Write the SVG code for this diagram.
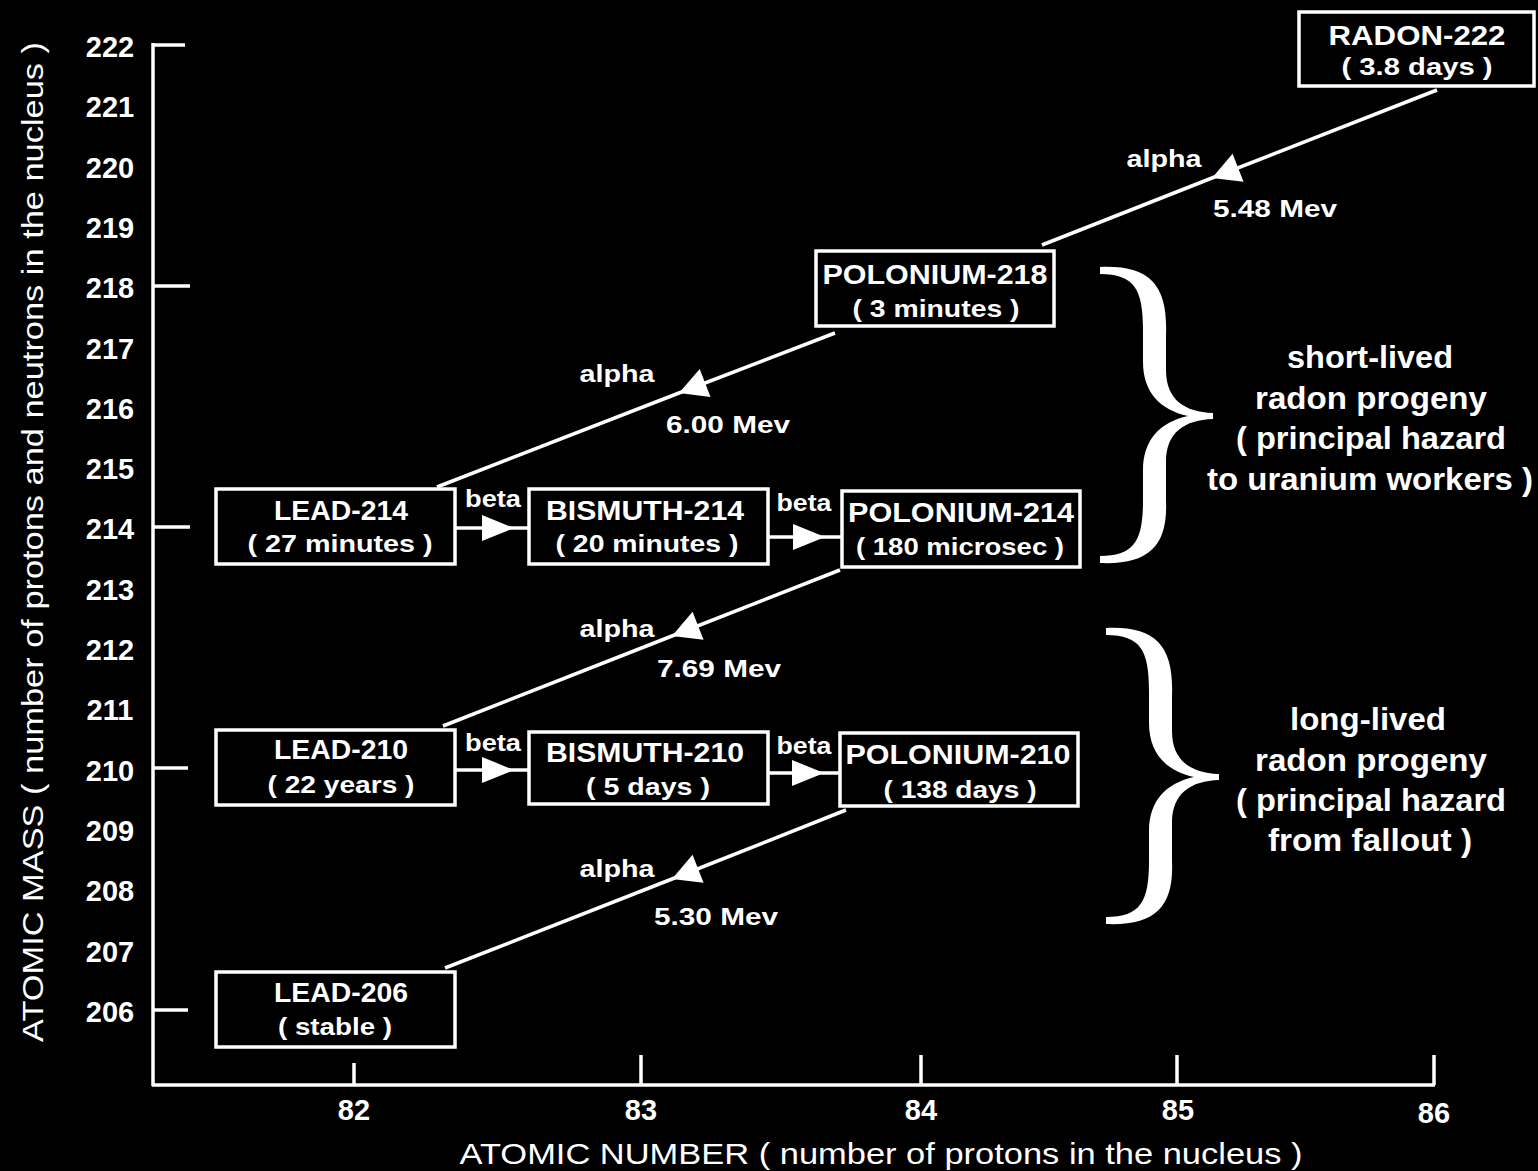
<svg xmlns="http://www.w3.org/2000/svg" width="1538" height="1171" viewBox="0 0 1538 1171">
<style>
text{fill:#fff;font-family:"Liberation Sans","DejaVu Sans",sans-serif;font-weight:bold;text-anchor:middle;dominant-baseline:central}
.name{font-size:27px}
.life{font-size:24px}
.num{font-size:29px;font-weight:normal}
.lbl{font-size:24px}
.side{font-size:32px;font-weight:normal}
.title{font-size:29px;font-weight:normal}
.box{fill:#000;stroke:#fff;stroke-width:3.5}
.ln{fill:none;stroke:#fff;stroke-width:3.5}
.alpha{fill:none;stroke:#fff;stroke-width:3.5;marker-mid:url(#ah)}
.beta{fill:none;stroke:#fff;stroke-width:3.5;marker-mid:url(#bh)}
</style>
<defs>
<marker id="ah" viewBox="-30 -16 32 32" refX="0" refY="0" markerWidth="32" markerHeight="32" markerUnits="userSpaceOnUse" orient="auto"><path d="M0,0 L-28,-15 L-28,15 Z" fill="#fff"/></marker>
<marker id="bh" viewBox="-35 -15 37 30" refX="0" refY="0" markerWidth="37" markerHeight="30" markerUnits="userSpaceOnUse" orient="auto"><path d="M0,0 L-32,-13 L-32,13 Z" fill="#fff"/></marker>
<path id="brace" d="M1100 267 C1150 265 1168 285 1166 335 L1166 370 C1166 400 1185 412 1213 413 L1213 419 C1185 420 1166 432 1166 462 L1166 500 C1168 545 1150 565 1100 563 L1100 556 C1135 556 1143 540 1143 500 L1143 470 C1143 440 1160 422 1188 416 C1160 410 1143 392 1143 362 L1143 330 C1143 290 1135 274 1100 274 Z" fill="#fff"/>
</defs>
<rect width="1538" height="1171" fill="#000"/>

<g id="axes">
<path class="ln" d="M153 43 L153 1086 M152 1085 L1435 1085"/>
<path class="ln" d="M153 45 L185 45 M153 286 L190 286 M153 527 L190 527 M153 768 L188 768 M153 1010 L188 1010"/>
<path class="ln" d="M354 1085 L354 1063 M641 1085 L641 1055 M921 1085 L921 1055 M1177 1085 L1177 1055 M1434 1085 L1434 1055"/>
<g class="num">
<text x="110" y="47">222</text><text x="110" y="107">221</text><text x="110" y="168">220</text><text x="110" y="228">219</text>
<text x="110" y="288">218</text><text x="110" y="349">217</text><text x="110" y="409">216</text><text x="110" y="469">215</text>
<text x="110" y="529">214</text><text x="110" y="590">213</text><text x="110" y="650">212</text><text x="110" y="710">211</text>
<text x="110" y="771">210</text><text x="110" y="831">209</text><text x="110" y="891">208</text><text x="110" y="952">207</text>
<text x="110" y="1012">206</text>
</g>
<g class="num">
<text x="354" y="1110">82</text><text x="641" y="1110">83</text><text x="921" y="1110">84</text><text x="1178" y="1110">85</text><text x="1434" y="1113">86</text>
</g>
<text class="title" x="881" y="1154" textLength="843" lengthAdjust="spacingAndGlyphs">ATOMIC NUMBER ( number of protons in the nucleus )</text>
<text class="title" transform="translate(33 542) rotate(-90)" x="0" y="0" textLength="1000" lengthAdjust="spacingAndGlyphs">ATOMIC MASS ( number of protons and neutrons in the nucleus )</text>
</g>

<g id="connectors">
<path class="alpha" d="M1437 90 L1212 178 L1042 245"/>
<path class="alpha" d="M835 333 L679 393 L437 487"/>
<path class="alpha" d="M840 570 L672 636 L443 726"/>
<path class="alpha" d="M846 810 L672 879 L445 968"/>
<path class="beta" d="M455 528 L514 528 L529 528"/>
<path class="beta" d="M768 537 L825 537 L842 537"/>
<path class="beta" d="M455 770 L514 770 L529 770"/>
<path class="beta" d="M768 773 L824 773 L840 773"/>
<g class="lbl">
<text x="1164" y="158" textLength="75" lengthAdjust="spacingAndGlyphs">alpha</text>
<text x="1275" y="208" textLength="124" lengthAdjust="spacingAndGlyphs">5.48 Mev</text>
<text x="617" y="373" textLength="75" lengthAdjust="spacingAndGlyphs">alpha</text>
<text x="728" y="424" textLength="124" lengthAdjust="spacingAndGlyphs">6.00 Mev</text>
<text x="617" y="628" textLength="75" lengthAdjust="spacingAndGlyphs">alpha</text>
<text x="719" y="668" textLength="124" lengthAdjust="spacingAndGlyphs">7.69 Mev</text>
<text x="617" y="868" textLength="75" lengthAdjust="spacingAndGlyphs">alpha</text>
<text x="716" y="916" textLength="124" lengthAdjust="spacingAndGlyphs">5.30 Mev</text>
<text x="493" y="498" textLength="56" lengthAdjust="spacingAndGlyphs">beta</text>
<text x="804" y="502" textLength="55" lengthAdjust="spacingAndGlyphs">beta</text>
<text x="493" y="742" textLength="56" lengthAdjust="spacingAndGlyphs">beta</text>
<text x="804" y="745" textLength="55" lengthAdjust="spacingAndGlyphs">beta</text>
</g>
</g>

<g id="radon222"><rect class="box" x="1299" y="12" width="235" height="74"/>
<text class="name" x="1417" y="36" textLength="177" lengthAdjust="spacingAndGlyphs">RADON-222</text>
<text class="life" x="1417" y="66" textLength="151" lengthAdjust="spacingAndGlyphs">( 3.8 days )</text></g>

<g id="polonium218"><rect class="box" x="816" y="251" width="238" height="75"/>
<text class="name" x="935" y="275" textLength="225" lengthAdjust="spacingAndGlyphs">POLONIUM-218</text>
<text class="life" x="936" y="308" textLength="167" lengthAdjust="spacingAndGlyphs">( 3 minutes )</text></g>

<g id="lead214"><rect class="box" x="216" y="489" width="239" height="75"/>
<text class="name" x="341" y="511" textLength="134" lengthAdjust="spacingAndGlyphs">LEAD-214</text>
<text class="life" x="340" y="543" textLength="185" lengthAdjust="spacingAndGlyphs">( 27 minutes )</text></g>

<g id="bismuth214"><rect class="box" x="529" y="489" width="239" height="75"/>
<text class="name" x="645" y="511" textLength="198" lengthAdjust="spacingAndGlyphs">BISMUTH-214</text>
<text class="life" x="647" y="543" textLength="183" lengthAdjust="spacingAndGlyphs">( 20 minutes )</text></g>

<g id="polonium214"><rect class="box" x="842" y="491" width="238" height="76"/>
<text class="name" x="961" y="513" textLength="226" lengthAdjust="spacingAndGlyphs">POLONIUM-214</text>
<text class="life" x="960" y="546" textLength="208" lengthAdjust="spacingAndGlyphs">( 180 microsec )</text></g>

<g id="lead210"><rect class="box" x="216" y="730" width="239" height="75"/>
<text class="name" x="341" y="750" textLength="134" lengthAdjust="spacingAndGlyphs">LEAD-210</text>
<text class="life" x="341" y="784" textLength="147" lengthAdjust="spacingAndGlyphs">( 22 years )</text></g>

<g id="bismuth210"><rect class="box" x="529" y="732" width="239" height="72"/>
<text class="name" x="645" y="753" textLength="198" lengthAdjust="spacingAndGlyphs">BISMUTH-210</text>
<text class="life" x="648" y="786" textLength="124" lengthAdjust="spacingAndGlyphs">( 5 days )</text></g>

<g id="polonium210"><rect class="box" x="840" y="733" width="238" height="73"/>
<text class="name" x="958" y="755" textLength="225" lengthAdjust="spacingAndGlyphs">POLONIUM-210</text>
<text class="life" x="960" y="789" textLength="153" lengthAdjust="spacingAndGlyphs">( 138 days )</text></g>

<g id="lead206"><rect class="box" x="216" y="972" width="239" height="75"/>
<text class="name" x="341" y="993" textLength="134" lengthAdjust="spacingAndGlyphs">LEAD-206</text>
<text class="life" x="335" y="1026" textLength="114" lengthAdjust="spacingAndGlyphs">( stable )</text></g>

<g id="short-lived">
<use href="#brace"/>
<g class="side">
<text x="1370" y="357" textLength="166" lengthAdjust="spacingAndGlyphs">short-lived</text>
<text x="1371" y="398" textLength="232" lengthAdjust="spacingAndGlyphs">radon progeny</text>
<text x="1371" y="438" textLength="270" lengthAdjust="spacingAndGlyphs">( principal hazard</text>
<text x="1370" y="479" textLength="326" lengthAdjust="spacingAndGlyphs">to uranium workers )</text>
</g></g>

<g id="long-lived">
<use href="#brace" transform="translate(6 361)"/>
<g class="side">
<text x="1368" y="719" textLength="156" lengthAdjust="spacingAndGlyphs">long-lived</text>
<text x="1371" y="760" textLength="232" lengthAdjust="spacingAndGlyphs">radon progeny</text>
<text x="1371" y="800" textLength="270" lengthAdjust="spacingAndGlyphs">( principal hazard</text>
<text x="1370" y="840" textLength="204" lengthAdjust="spacingAndGlyphs">from fallout )</text>
</g></g>
</svg>
